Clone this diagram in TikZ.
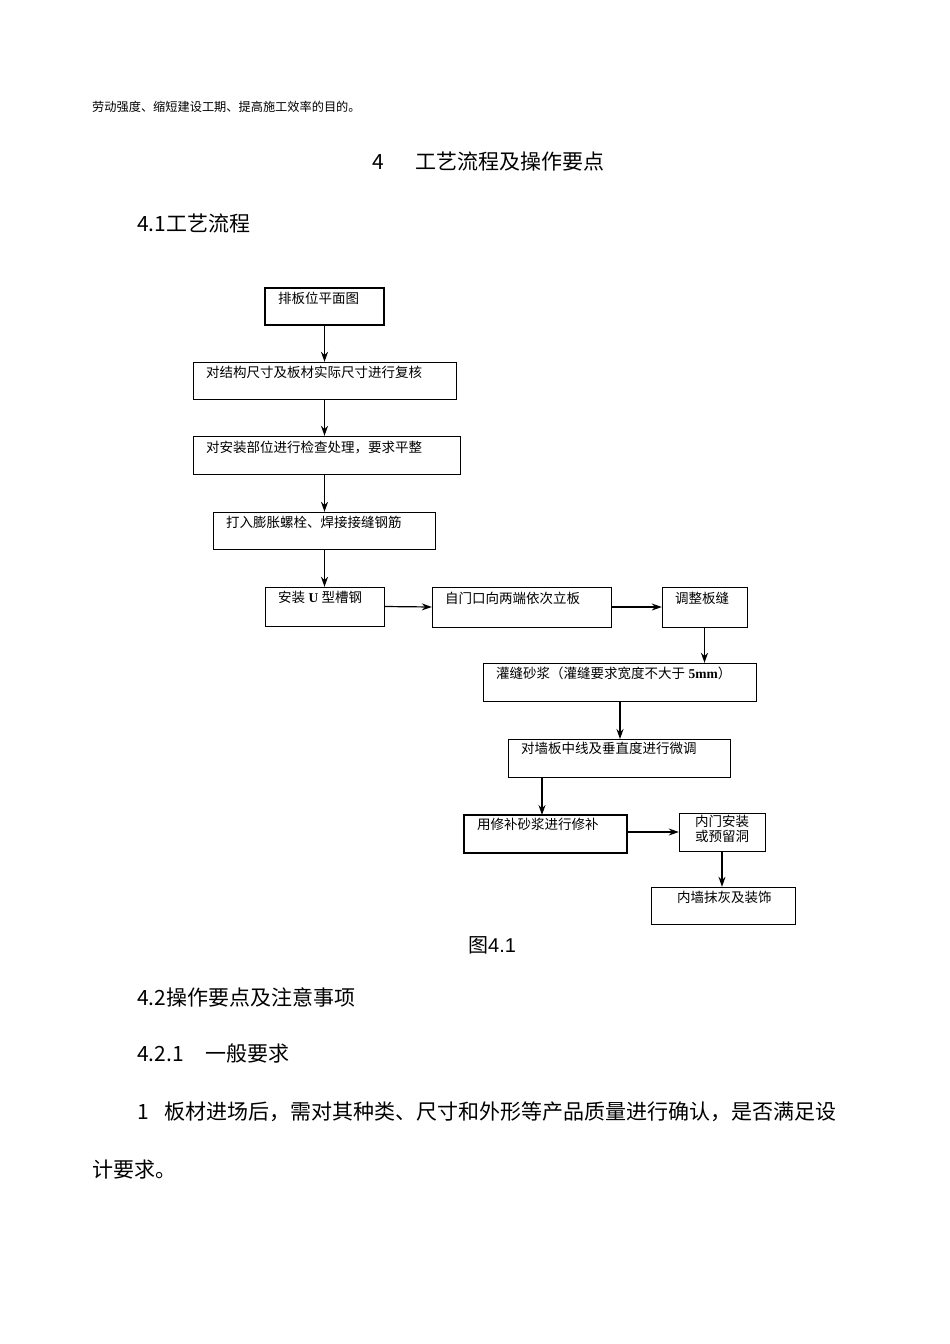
\documentclass[tikz,border=0pt]{standalone}
\usepackage{fontspec}
\setmainfont{Liberation Serif}
\newfontfamily\cjk{Noto Sans CJK SC}
\usetikzlibrary{arrows.meta}
\begin{document}
\begin{tikzpicture}[x=1pt,y=-1pt,
 txt/.style={anchor=north west,font=\cjk\fontsize{13.5}{15}\selectfont,inner sep=0pt},
 arr/.style={-{Stealth[length=10pt,width=7pt]},line width=1.2pt},
 body/.style={anchor=west,font=\cjk\fontsize{21}{24}\selectfont,inner sep=0pt}]
\useasboundingbox (0,0) rectangle (950,1344);
\node[anchor=west,inner sep=0pt,font=\cjk\fontsize{12.2}{14}\selectfont] (t0) at (92,107) {劳动强度、缩短建设工期、提高施工效率的目的。};
\node[anchor=west,inner sep=0pt,font=\cjk\fontsize{21}{24}\selectfont] (h1) at (372,162) {4\hspace{32pt}工艺流程及操作要点};
\node[body] (h2) at (137,223) {4.1工艺流程};
\newcommand\bx[6]{\draw[line width=#6] (#2,#3) rectangle (#4,#5); \path (#2,#3) rectangle (#4,#5) node[pos=.5,inner sep=0pt,minimum width=#4pt-#2pt,minimum height=#5pt-#3pt] (#1) {};}
\bx{b1}{265}{288}{384}{325}{1.8pt}
\bx{b2}{193}{362}{456}{399}{0.9pt}
\bx{b3}{193}{436}{460}{474}{0.9pt}
\bx{b4}{213}{512}{435}{549}{0.9pt}
\bx{b5}{265}{587}{384}{626}{0.9pt}
\bx{b6}{432}{587}{611}{627}{0.9pt}
\bx{b7}{662}{587}{747}{627}{0.9pt}
\bx{b8}{483}{663}{756}{701}{0.9pt}
\bx{b9}{508}{739}{730}{777}{0.9pt}
\bx{b10}{464}{815}{627}{853}{1.8pt}
\bx{b11}{679}{813}{765}{851}{0.9pt}
\bx{b12}{651}{887}{795}{924}{0.9pt}
\node[txt] at (278,292) {排板位平面图};
\node[txt] at (206,366) {对结构尺寸及板材实际尺寸进行复核};
\node[txt] at (206,441) {对安装部位进行检查处理，要求平整};
\node[txt] at (226,516) {打入膨胀螺栓、焊接接缝钢筋};
\node[txt] at (278,591) {安装{\fontspec{Liberation Serif}\bfseries\ U }型槽钢};
\node[txt] at (445,592) {自门口向两端依次立板};
\node[txt] at (675,592) {调整板缝};
\node[txt] at (496,667) {灌缝砂浆（灌缝要求宽度不大于{\fontspec{Liberation Serif}\bfseries\ 5mm}）};
\node[txt] at (521,742) {对墙板中线及垂直度进行微调};
\node[txt] at (477,818) {用修补砂浆进行修补};
\node[txt,align=center,anchor=north] at (722,815) {内门安装\\或预留洞};
\node[txt] at (677,891) {内墙抹灰及装饰};
\draw[arr] (b1.south) -- (b2.north);
\draw[arr] (b1.south|-b2.south) -- (b1.south|-b3.north);
\draw[arr] (b1.south|-b3.south) -- (b1.south|-b4.north);
\draw[arr] (b1.south|-b4.south) -- (b5.north);
\draw[arr] (b5.east) -- (b6.west);
\draw[arr] (b6.east) -- (b7.west);
\draw[arr] (b7.south) -- (b7.south|-b8.north);
\draw[arr] (620,701) -- (620,739);
\draw[arr] (542,777) -- (542,815);
\draw[arr] (b10.east|-b11.west) -- (b11.west);
\draw[arr] (b11.south) -- (b11.south|-b12.north);
\node[anchor=west,inner sep=0pt,font=\cjk\fontsize{20}{24}\selectfont] (cap) at (468,945) {图{\fontspec{Liberation Sans}4.1}};
\node[body] (h3) at (137,997) {4.2操作要点及注意事项};
\node[body] (h4) at (137,1054) {4.2.1\hspace{22pt}一般要求};
\node[body] (p1) at (137,1112) {1\hspace{16pt}板材进场后，需对其种类、尺寸和外形等产品质量进行确认，是否满足设};
\node[body] (p2) at (92,1170) {计要求。};
\end{tikzpicture}
\end{document}
